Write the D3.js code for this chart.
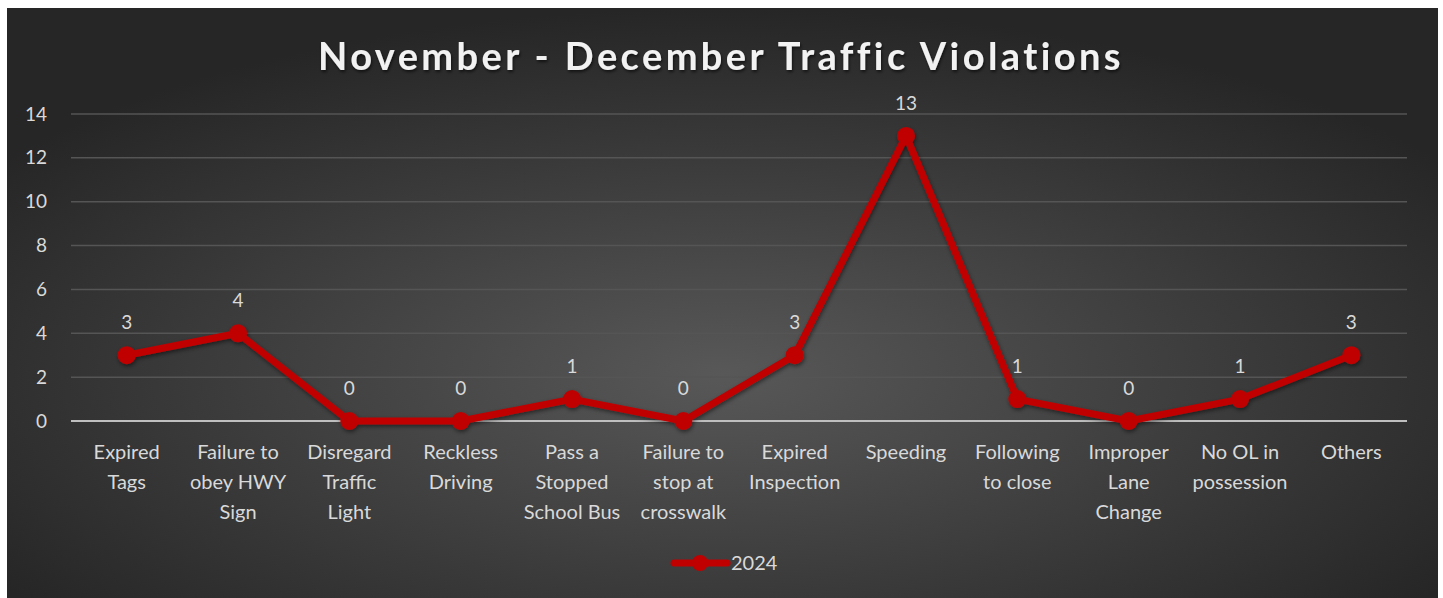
<!DOCTYPE html>
<html lang="en">
<head>
  <meta charset="UTF-8">
  <title>November - December Traffic Violations</title>
  <script src="https://d3js.org/d3.v7.min.js"></script>
  <style>
    body {
      margin: 0;
      padding: 0;
      background: #fff;
      font-family: Lato, "Open Sans", sans-serif;
    }
    svg { display: block; }
  </style>
</head>
<body>
  <div id="chart"></div>

  <script>
    const categories = [
      "Expired Tags", "Failure to obey HWY Sign", "Disregard Traffic Light",
      "Reckless Driving", "Pass a Stopped School Bus", "Failure to stop at crosswalk",
      "Expired Inspection", "Speeding", "Following to close",
      "Improper Lane Change", "No OL in possession", "Others"
    ];
    // how each category label wraps under the axis
    const categoryLines = [
      ["Expired", "Tags"], ["Failure to", "obey HWY", "Sign"], ["Disregard", "Traffic", "Light"],
      ["Reckless", "Driving"], ["Pass a", "Stopped", "School Bus"], ["Failure to", "stop at", "crosswalk"],
      ["Expired", "Inspection"], ["Speeding"], ["Following", "to close"],
      ["Improper", "Lane", "Change"], ["No OL in", "possession"], ["Others"]
    ];
    const values2024 = [3, 4, 0, 0, 1, 0, 3, 13, 1, 0, 1, 3];
    const yTicks = [0, 2, 4, 6, 8, 10, 12, 14];
    const seriesName = "2024";

    const width = 1443;
    const height = 598;
    const margin = { left: 71, right: 36, top: 114, bottom: 177 };

    const svg = d3.select("#chart")
      .append("svg")
      .attr("width", width)
      .attr("height", height);

    const defs = svg.append("defs");
    const grad = defs.append("radialGradient")
      .attr("id", "bg")
      .attr("cx", "50%").attr("cy", "62%").attr("r", "62%");
    grad.append("stop").attr("offset", "0%").attr("stop-color", "#585858");
    grad.append("stop").attr("offset", "100%").attr("stop-color", "#262626");

    const shadow = defs.append("filter").attr("id", "shadow")
      .attr("x", "-5%").attr("y", "-20%").attr("width", "110%").attr("height", "140%");
    shadow.append("feDropShadow")
      .attr("dx", 1).attr("dy", 2).attr("stdDeviation", 2)
      .attr("flood-color", "#000").attr("flood-opacity", 0.5);

    const titleShadow = defs.append("filter").attr("id", "tshadow");
    titleShadow.append("feDropShadow")
      .attr("dx", 1).attr("dy", 2).attr("stdDeviation", 1.5)
      .attr("flood-color", "#000").attr("flood-opacity", 0.6);

    // chart panel
    svg.append("rect")
      .attr("x", 7).attr("y", 8)
      .attr("width", 1431).attr("height", 590)
      .attr("fill", "url(#bg)");

    svg.append("text")
      .attr("x", 721).attr("y", 70)
      .attr("text-anchor", "middle")
      .attr("font-size", "38px")
      .attr("font-weight", "bold")
      .attr("letter-spacing", "3.4px")
      .attr("fill", "#f2f2f2")
      .attr("filter", "url(#tshadow)")
      .text("November - December Traffic Violations");

    const x = d3.scaleBand()
      .domain(categories)
      .range([margin.left, width - margin.right]);

    const y = d3.scaleLinear()
      .domain([0, 14])
      .range([height - margin.bottom, margin.top]);

    // gridlines
    svg.append("g")
      .selectAll("line")
      .data(yTicks.filter(d => d > 0))
      .join("line")
      .attr("x1", margin.left)
      .attr("x2", width - margin.right)
      .attr("y1", d => y(d))
      .attr("y2", d => y(d))
      .attr("stroke", "#555")
      .attr("stroke-width", 1.5);

    // y axis labels
    const yAxis = svg.append("g")
      .attr("transform", `translate(${margin.left - 24},0)`)
      .call(d3.axisLeft(y).tickValues(yTicks).tickSize(0).tickPadding(0));
    yAxis.select(".domain").remove();
    yAxis.selectAll("text")
      .attr("fill", "#d9d9d9")
      .attr("font-size", "19px")
      .attr("font-family", "Lato, sans-serif");

    // zero axis line
    svg.append("line")
      .attr("x1", margin.left)
      .attr("x2", width - margin.right)
      .attr("y1", y(0))
      .attr("y2", y(0))
      .attr("stroke", "#bfbfbf")
      .attr("stroke-width", 2);

    // category labels
    const xAxis = svg.append("g");
    categories.forEach((c, i) => {
      const t = xAxis.append("text")
        .attr("x", x(c) + x.bandwidth() / 2)
        .attr("y", y(0) + 38)
        .attr("text-anchor", "middle")
        .attr("fill", "#d9d9d9")
        .attr("font-size", "20px");
      t.selectAll("tspan")
        .data(categoryLines[i])
        .join("tspan")
        .attr("x", x(c) + x.bandwidth() / 2)
        .attr("dy", (d, j) => j === 0 ? 0 : 30)
        .text(d => d);
    });

    const cx = (d, i) => x(categories[i]) + x.bandwidth() / 2;

    const line = d3.line()
      .x((d, i) => cx(d, i))
      .y(d => y(d));

    const series = svg.append("g").attr("filter", "url(#shadow)");

    series.append("path")
      .datum(values2024)
      .attr("d", line)
      .attr("fill", "none")
      .attr("stroke", "#c00000")
      .attr("stroke-width", 7)
      .attr("stroke-linejoin", "round")
      .attr("stroke-linecap", "round");

    series.selectAll("circle")
      .data(values2024)
      .join("circle")
      .attr("cx", cx)
      .attr("cy", d => y(d))
      .attr("r", 9)
      .attr("fill", "#c00000");

    // data labels
    svg.append("g")
      .selectAll("text")
      .data(values2024)
      .join("text")
      .attr("x", cx)
      .attr("y", d => y(d) - 26)
      .attr("text-anchor", "middle")
      .attr("fill", "#d9d9d9")
      .attr("font-size", "19px")
      .text(d => d);

    // legend
    const legend = svg.append("g").attr("transform", "translate(671,563)");
    legend.append("line")
      .attr("x1", 3).attr("x2", 56)
      .attr("y1", 0).attr("y2", 0)
      .attr("stroke", "#c00000")
      .attr("stroke-width", 7)
      .attr("stroke-linecap", "round");
    legend.append("circle")
      .attr("cx", 29).attr("cy", 0).attr("r", 8)
      .attr("fill", "#c00000");
    legend.append("text")
      .attr("x", 60).attr("y", 7)
      .attr("fill", "#d9d9d9")
      .attr("font-size", "20px")
      .text(seriesName);
  </script>
</body>
</html>
